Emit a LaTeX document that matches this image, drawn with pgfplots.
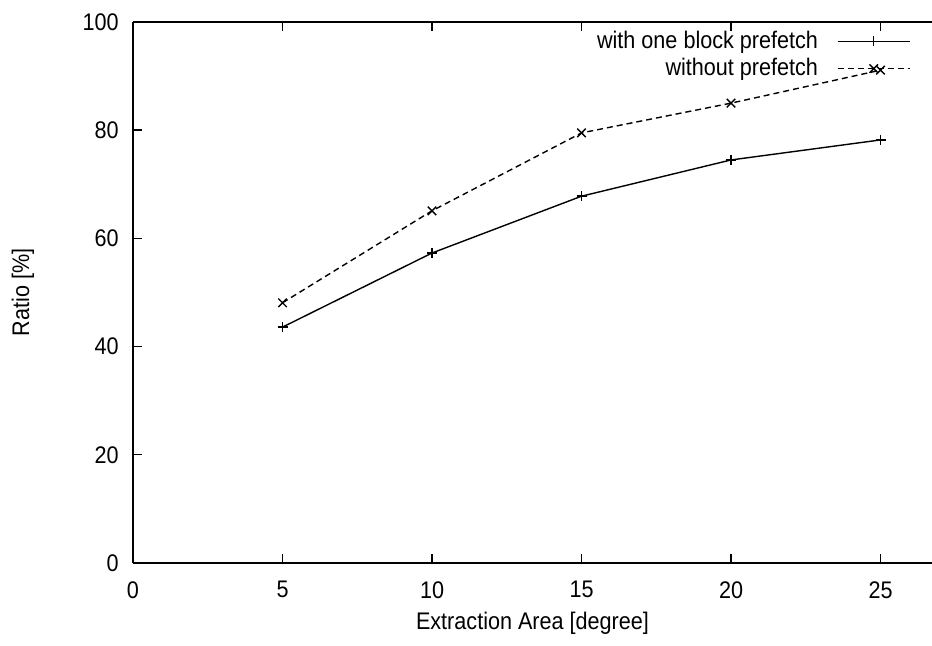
\documentclass[border=0pt]{standalone}
\usepackage{fontspec}
\setmainfont{Liberation Sans}[FakeStretch=0.9]
\usepackage{pgfplots}
\pgfplotsset{compat=1.18}
\begin{document}
\fontsize{12pt}{14.4pt}\selectfont
\begin{tikzpicture}
\useasboundingbox (-66.5pt,-41.5pt) rectangle (399.5pt,281.5pt);
\begin{axis}[
  at={(0,0)}, anchor=south west,
  scale only axis,
  width=399.5pt, height=270.5pt,
  xmin=0, xmax=26.72, ymin=0, ymax=100,
  axis x line*=box, axis y line*=left,
  x axis line style={-}, y axis line style={-},
  axis line style={line width=1pt},
  xtick={0,5,10,15,20,25}, ytick={0,20,40,60,80,100},
  tick align=inside, major tick length=4.5pt,
  tick style={line width=0.7pt, black},
  /pgf/number format/assume math mode=true,
  ticklabel style={font=\fontsize{12pt}{14.4pt}\selectfont},
  yticklabel style={xshift=-3pt},
  xticklabel style={yshift=-5pt},
  xlabel={Extraction Area [degree]},
  ylabel={Ratio [\%]},
  xlabel style={at={(axis description cs:0.5,0)}, anchor=base, yshift=-33.5pt},
  ylabel style={at={(axis description cs:-0.1377,0.5)}, anchor=center},
  clip=false,
  legend plot pos=right,
  legend cell align=right,
  legend style={draw=none, fill=none, at={(rel axis cs:0.981,0.992)}, anchor=north east,
    column sep=9.5pt, row sep=3.2pt, nodes={inner sep=0pt},
    font=\fontsize{12pt}{14.4pt}\selectfont},
  legend image code/.code={\draw[mark repeat=2,mark phase=2,#1] plot coordinates {(0pt,0pt) (18pt,0pt) (36pt,0pt)};},
]
\addplot[black, line width=0.7pt, mark=+, mark size=2.5pt, mark options={solid}] coordinates {
  (5,43.6) (10,57.3) (15,67.8) (20,74.5) (25,78.2)};
\addlegendentry{with one block prefetch}
\addplot[black, line width=0.7pt, dash pattern=on 3pt off 2pt, mark=x, mark size=3pt, mark options={solid}] coordinates {
  (5,48.1) (10,65.1) (15,79.5) (20,85.0) (25,91.1)};
\addlegendentry{without prefetch}
\end{axis}
\end{tikzpicture}
\end{document}
